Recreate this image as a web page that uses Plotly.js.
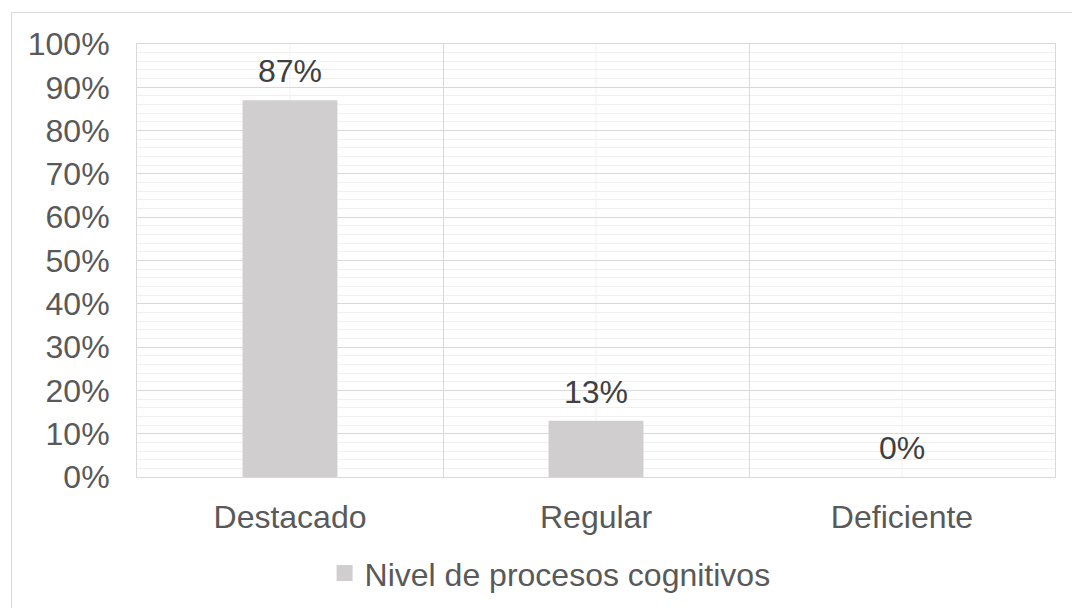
<!DOCTYPE html>
<html>
<head>
<meta charset="utf-8">
<script src="https://cdn.plot.ly/plotly-3.0.1.min.js"></script>
<style>
html, body { margin: 0; padding: 0; background: #ffffff; overflow: hidden; width: 1072px; height: 608px; }
#frame { position: absolute; left: 11px; top: 12px; width: 1070px; height: 600px; border-left: 1px solid #d9d9d9; border-top: 1px solid #d9d9d9; }
#chart { position: absolute; left: 0; top: 0; width: 1061px; height: 596px; }
</style>
</head>
<body>
<div id="frame"><div id="chart"></div></div>
<script>
const categories = ["Destacado", "Regular", "Deficiente"];
const values = [0.87, 0.13, 0.00];
const labels = ["87%", "13%", "0%"];
const seriesName = "Nivel de procesos cognitivos";
const yTickVals = [0, 0.1, 0.2, 0.3, 0.4, 0.5, 0.6, 0.7, 0.8, 0.9, 1.0];

const FONT = "Liberation Sans, Arial, sans-serif";
const BAR_COLOR = "#d0cecf";

const barTrace = {
  type: "bar",
  x: categories,
  y: values,
  name: seriesName,
  width: 0.31,
  marker: { color: BAR_COLOR },
  hoverinfo: "skip",
  showlegend: false
};

// legend-only entry with a larger square swatch
const legendTrace = {
  type: "scatter",
  mode: "markers",
  x: [categories[0]],
  y: [null],
  name: seriesName,
  marker: { symbol: "square", size: 16, color: BAR_COLOR },
  hoverinfo: "skip",
  showlegend: true
};

const annotations = categories.map((c, i) => ({
  x: c, y: values[i], xref: "x", yref: "y",
  text: labels[i], showarrow: false,
  yanchor: "middle", yshift: 29,
  font: { family: FONT, size: 32, color: "#404040" }
}));

const shapes = categories.map(c => ({
  type: "line", xref: "x", yref: "paper",
  x0: c, x1: c, y0: 0, y1: 1,
  line: { color: "#f0f0f0", width: 1 },
  layer: "below"
}));

const layout = {
  width: 1061, height: 596,
  margin: { l: 125, r: 18, t: 31, b: 132 },
  paper_bgcolor: "#ffffff",
  plot_bgcolor: "#ffffff",
  font: { family: FONT, size: 32, color: "#595959" },
  xaxis: {
    type: "category",
    range: [-0.5, 2.5],
    tickson: "boundaries",
    showgrid: true, gridcolor: "#d9d9d9", gridwidth: 1,
    showline: true, linecolor: "#d9d9d9", linewidth: 1, mirror: true,
    ticks: "", ticklabelstandoff: 12,
    tickfont: { family: FONT, size: 32, color: "#595959" },
    zeroline: false, fixedrange: true
  },
  yaxis: {
    range: [0, 1],
    tickvals: yTickVals,
    tickformat: ".0%",
    showgrid: true, gridcolor: "#d9d9d9", gridwidth: 1,
    minor: { dtick: 0.02, showgrid: true, gridcolor: "#f0f0f0", gridwidth: 1, ticks: "" },
    showline: true, linecolor: "#d9d9d9", linewidth: 1, mirror: true,
    ticks: "", ticklabelstandoff: 20,
    tickfont: { family: FONT, size: 32, color: "#595959" },
    zeroline: false, fixedrange: true
  },
  legend: {
    orientation: "h",
    xref: "paper", x: 0.45, xanchor: "center",
    yref: "container", y: 0.06, yanchor: "middle",
    font: { family: FONT, size: 32, color: "#595959" },
    itemwidth: 30,
    itemsizing: "trace"
  },
  annotations: annotations,
  shapes: shapes,
  bargap: 0.69
};

Plotly.newPlot("chart", [barTrace, legendTrace], layout, { displayModeBar: false, staticPlot: true });
</script>
</body>
</html>
